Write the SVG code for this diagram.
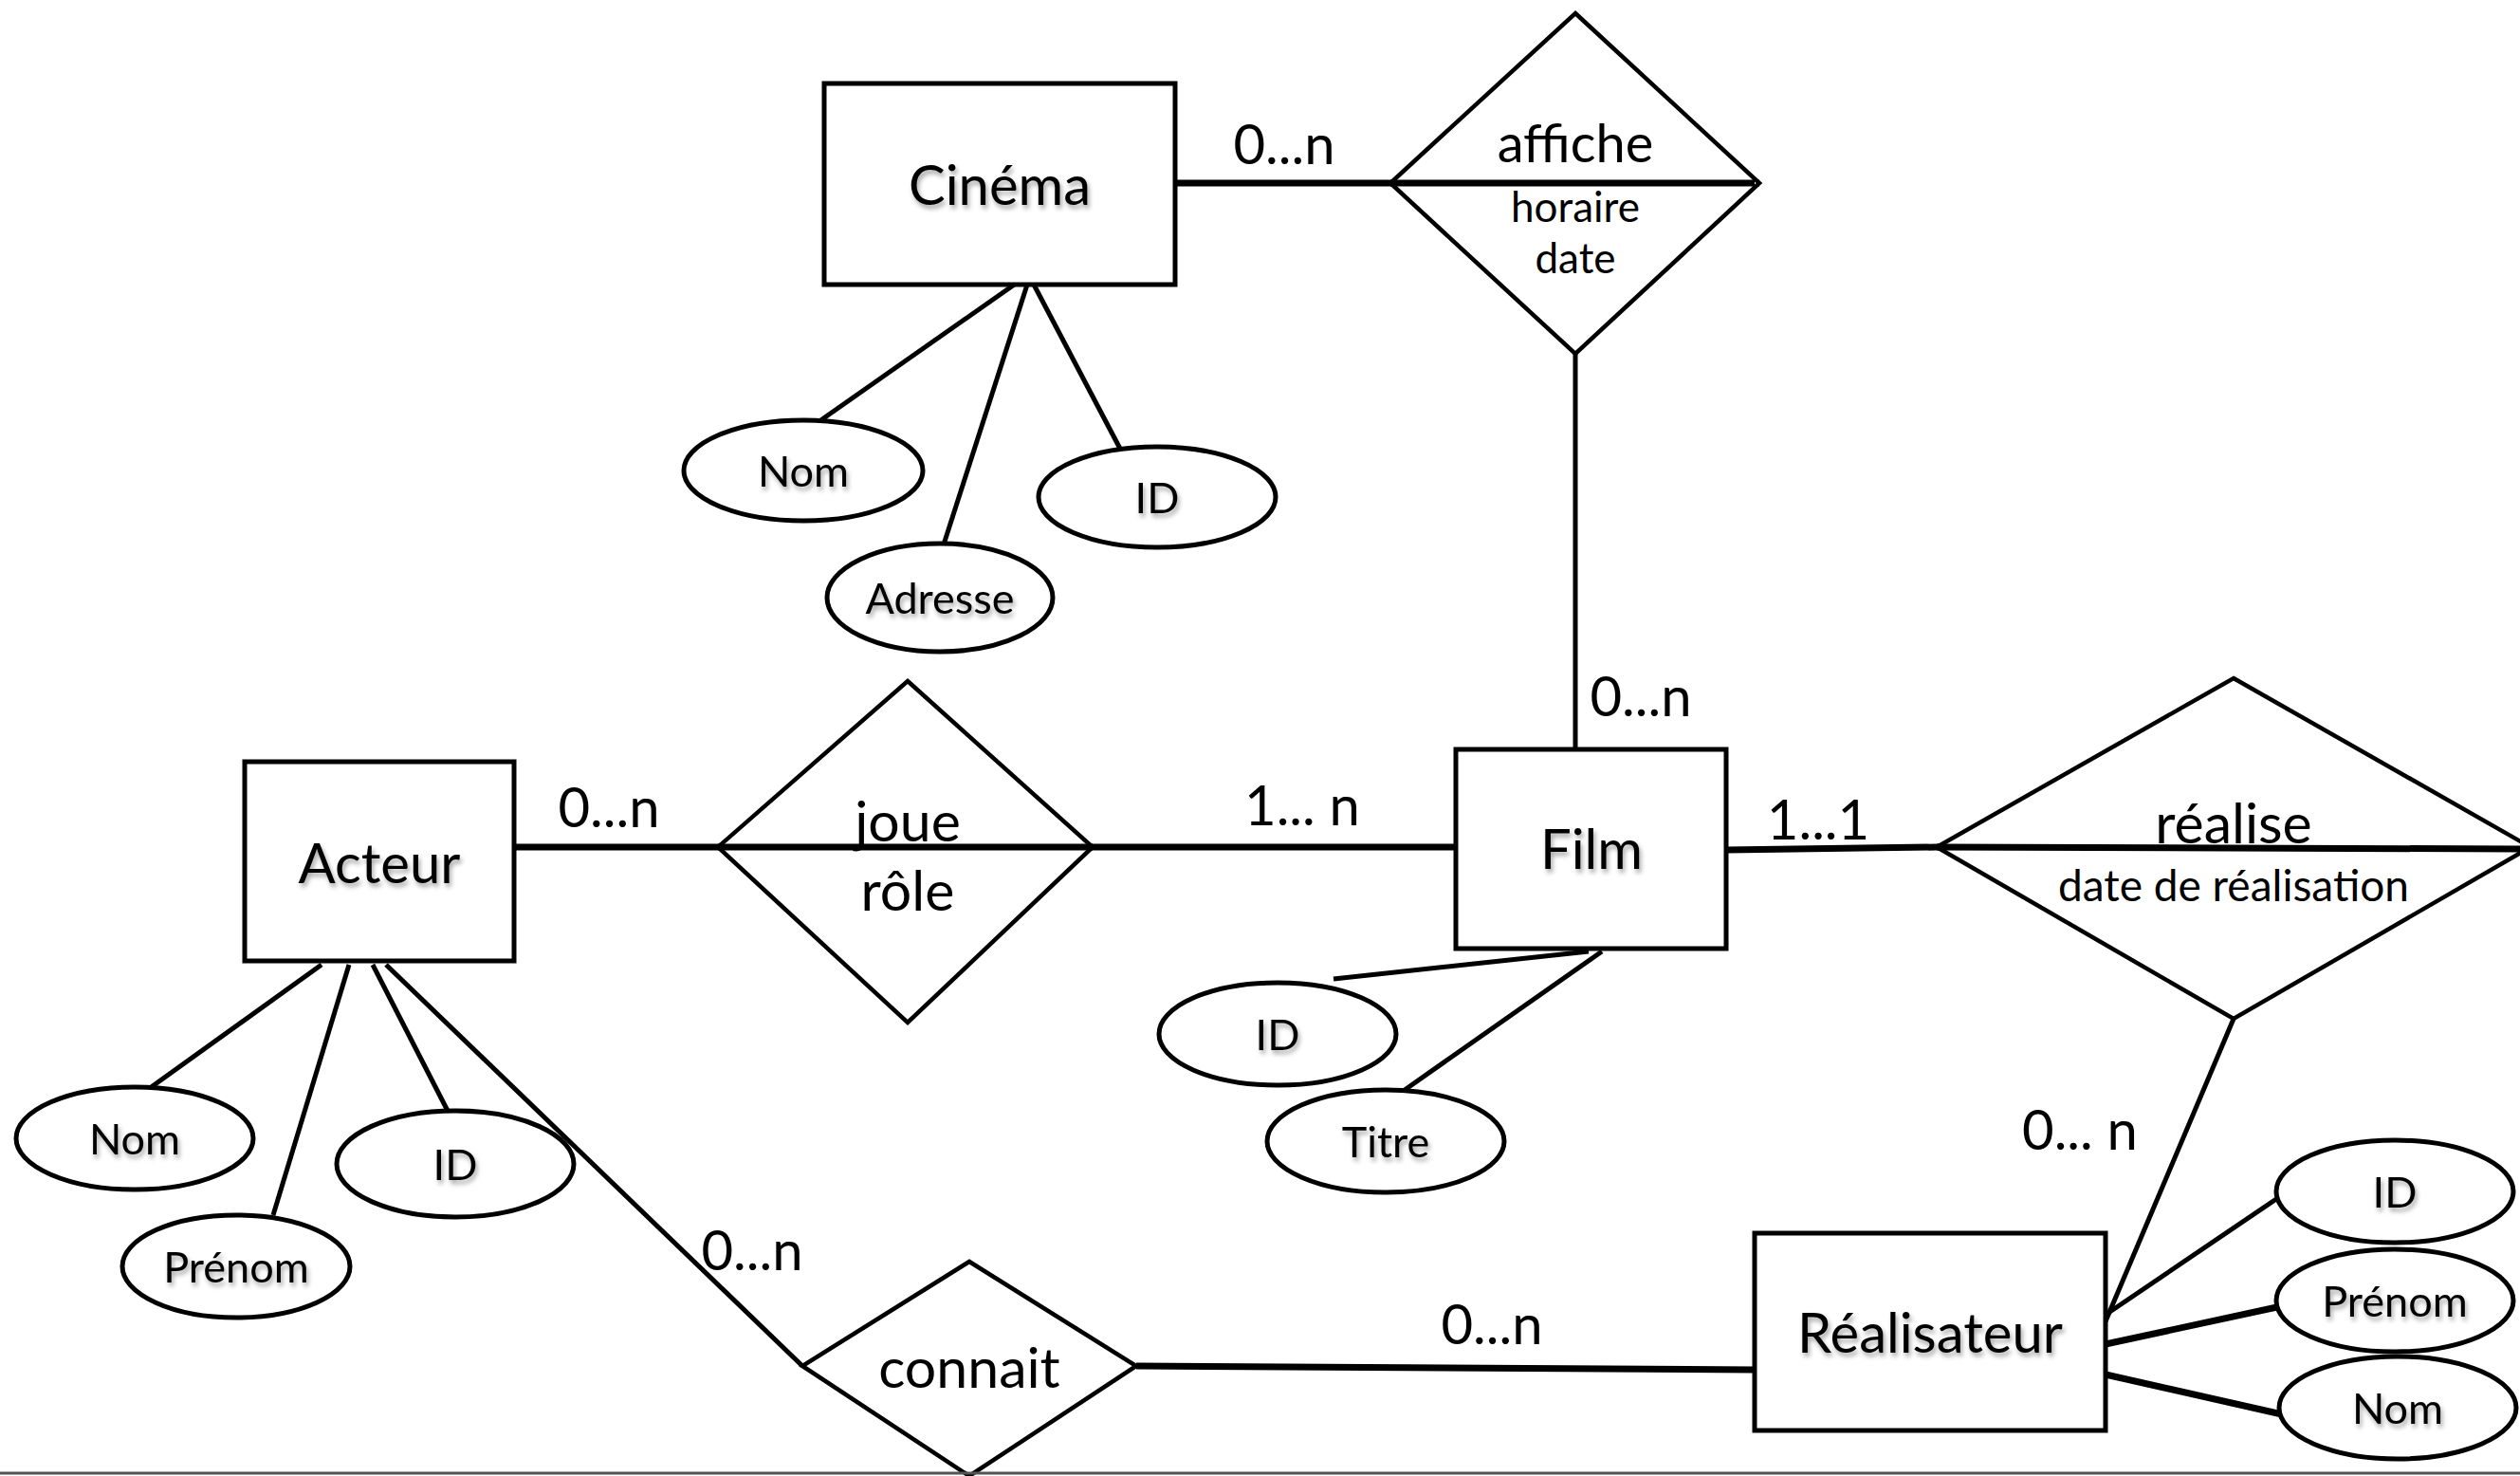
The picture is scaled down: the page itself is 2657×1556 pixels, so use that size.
<svg xmlns="http://www.w3.org/2000/svg" width="2657" height="1556" viewBox="0 0 2657 1556">
<defs>
<filter id="sh" x="-20%" y="-20%" width="140%" height="160%">
<feDropShadow dx="2" dy="4" stdDeviation="2.5" flood-color="#000" flood-opacity="0.35"/>
</filter>
<style>
.ent{fill:#fff;stroke:#000;stroke-width:5}
.rel{fill:#fff;stroke:#000;stroke-width:4.5}
.att{fill:#fff;stroke:#000;stroke-width:5}
.ln{stroke:#000;stroke-width:5;fill:none}
.lk{stroke:#000;stroke-width:7;fill:none}
text{font-family:Lato,"Open Sans","Liberation Sans",sans-serif;fill:#000;text-anchor:middle;dominant-baseline:central}
.et{font-size:58px;filter:url(#sh)}
.at{font-size:45px;filter:url(#sh)}
.rt{font-size:59px}
.rs{font-size:44px}
.card{font-size:58px}
</style>
</defs>
<rect width="2657" height="1556" fill="#fff"/>
<g id="connectors">
<line class="lk" x1="1239" y1="193" x2="1855" y2="193"/>
<line class="ln" x1="1661" y1="373" x2="1661" y2="790"/>
<line class="ln" x1="1078" y1="294" x2="864" y2="444"/>
<line class="ln" x1="1084" y1="297" x2="995" y2="574"/>
<line class="ln" x1="1090" y1="300" x2="1181" y2="473"/>
<line class="lk" x1="542" y1="893" x2="1535" y2="893"/>
<line class="lk" x1="1820" y1="896" x2="2042" y2="893"/>
<line class="lk" x1="2042" y1="893" x2="2657" y2="895"/>
<line class="ln" x1="1675" y1="1003" x2="1406" y2="1032"/>
<line class="ln" x1="1689" y1="1003" x2="1481" y2="1149"/>
<line class="ln" x1="2355" y1="1074" x2="2220" y2="1393"/>
<line class="ln" x1="2220" y1="1386" x2="2403" y2="1262"/>
<line class="lk" x1="2220" y1="1417" x2="2410" y2="1376"/>
<line class="lk" x1="2220" y1="1449" x2="2406" y2="1491"/>
<line class="lk" x1="1198" y1="1440" x2="1850" y2="1444"/>
<line class="ln" x1="407" y1="1017" x2="846" y2="1440"/>
<line class="ln" x1="339" y1="1017" x2="158" y2="1147"/>
<line class="ln" x1="368" y1="1017" x2="288" y2="1281"/>
<line class="ln" x1="393" y1="1017" x2="473" y2="1173"/>
</g>
<g id="cinema">
<rect class="ent" x="869" y="88" width="370" height="212"/>
<text class="et" x="1054" y="193">Cinéma</text>
</g>
<g id="affiche">
<polygon class="rel" points="1661,14 1855,193 1661,373 1466,193"/>
<line class="lk" x1="1466" y1="193" x2="1850" y2="193"/>
<text class="rt" x="1661" y="149" style="font-size:56px">affiche</text>
<text class="rs" x="1661" y="217">horaire</text>
<text class="rs" x="1661" y="271">date</text>
</g>
<g id="cinema-nom">
<ellipse class="att" cx="847" cy="496" rx="126" ry="53"/>
<text class="at" x="847" y="496">Nom</text>
</g>
<g id="cinema-id">
<ellipse class="att" cx="1220" cy="524" rx="125" ry="53"/>
<text class="at" x="1220" y="524">ID</text>
</g>
<g id="cinema-adresse">
<ellipse class="att" cx="991" cy="630" rx="119" ry="57"/>
<text class="at" x="991" y="630">Adresse</text>
</g>
<g id="acteur">
<rect class="ent" x="258" y="803" width="284" height="210"/>
<text class="et" x="400" y="908">Acteur</text>
</g>
<g id="joue">
<polygon class="rel" points="957,718 1152,893 957,1078 757,893"/>
<line class="lk" x1="757" y1="893" x2="1152" y2="893"/>
<text class="rt" x="957" y="864">joue</text>
<text class="rt" x="957" y="937">rôle</text>
</g>
<g id="film">
<rect class="ent" x="1535" y="790" width="285" height="210"/>
<text class="et" x="1678" y="893">Film</text>
</g>
<g id="realise">
<polygon class="rel" points="2355,715 2668,893 2355,1074 2042,893"/>
<line class="lk" x1="2042" y1="893" x2="2657" y2="895"/>
<text class="rt" x="2355" y="866">réalise</text>
<text class="rs" x="2355" y="932" style="font-size:46px">date de réalisation</text>
</g>
<g id="film-id">
<ellipse class="att" cx="1347" cy="1090" rx="125" ry="54"/>
<text class="at" x="1347" y="1090">ID</text>
</g>
<g id="film-titre">
<ellipse class="att" cx="1461" cy="1203" rx="125" ry="54"/>
<text class="at" x="1461" y="1203">Titre</text>
</g>
<g id="realisateur">
<rect class="ent" x="1850" y="1300" width="370" height="208"/>
<text class="et" x="2035" y="1403">Réalisateur</text>
</g>
<g id="real-id">
<ellipse class="att" cx="2525" cy="1256" rx="125" ry="54"/>
<text class="at" x="2525" y="1256">ID</text>
</g>
<g id="real-prenom">
<ellipse class="att" cx="2525" cy="1371" rx="125" ry="54"/>
<text class="at" x="2525" y="1371">Prénom</text>
</g>
<g id="real-nom">
<ellipse class="att" cx="2528" cy="1484" rx="125" ry="54"/>
<text class="at" x="2528" y="1484">Nom</text>
</g>
<g id="connait">
<polygon class="rel" points="1022,1330 1198,1440 1022,1556 846,1440"/>
<text class="rt" x="1022" y="1440">connait</text>
</g>
<g id="acteur-nom">
<ellipse class="att" cx="142" cy="1200" rx="125" ry="54"/>
<text class="at" x="142" y="1200">Nom</text>
</g>
<g id="acteur-prenom">
<ellipse class="att" cx="249" cy="1335" rx="120" ry="54"/>
<text class="at" x="249" y="1335">Prénom</text>
</g>
<g id="acteur-id">
<ellipse class="att" cx="480" cy="1227" rx="125" ry="56"/>
<text class="at" x="480" y="1227">ID</text>
</g>
<g id="cardinalities">
<text class="card" x="1354" y="150">0...n</text>
<text class="card" x="1730" y="732">0...n</text>
<text class="card" x="642" y="849">0...n</text>
<text class="card" x="1373" y="847">1... n</text>
<text class="card" x="1917" y="862">1...1</text>
<text class="card" x="2193" y="1189">0... n</text>
<text class="card" x="1573" y="1394">0...n</text>
<text class="card" x="793" y="1316">0...n</text>
</g>
<line x1="0" y1="1553" x2="2657" y2="1553" stroke="#555" stroke-width="3"/>
</svg>
